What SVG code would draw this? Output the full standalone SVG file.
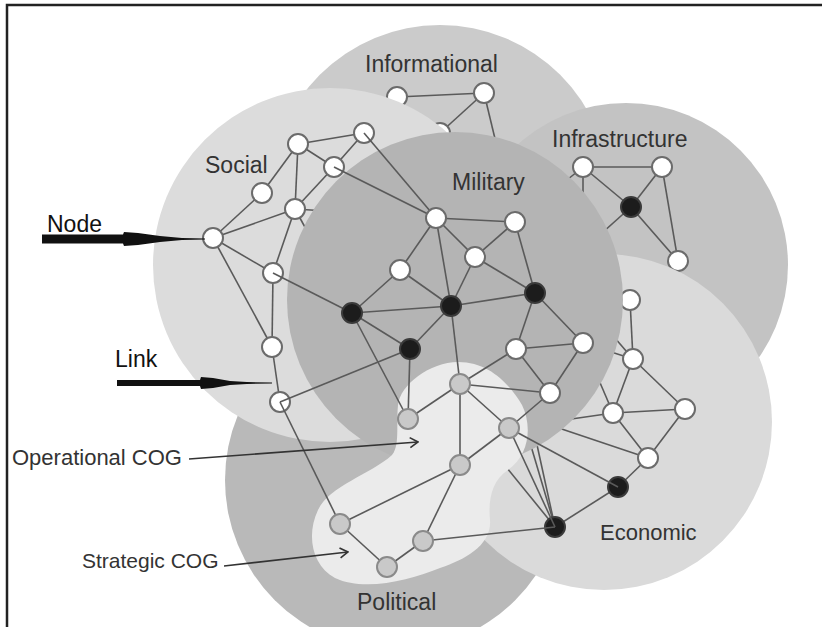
<svg xmlns="http://www.w3.org/2000/svg" width="822" height="627" viewBox="0 0 822 627">
<style>
.n{fill:#fff;stroke:#6b6b6b;stroke-width:2}
.b{fill:#1c1c1c;stroke:#3a3a3a;stroke-width:2}
.g{fill:#c9c9c9;stroke:#8a8a8a;stroke-width:2}
.l line{stroke:#5a5a5a;stroke-width:1.6}
.lab{font-family:"Liberation Sans",Arial,sans-serif;font-size:23px;fill:#333}
.ptr{stroke:#333;stroke-width:1.6;fill:none}
</style>
<defs>
<marker id="chev" viewBox="0 0 10 12" refX="9" refY="6" markerWidth="10" markerHeight="12" markerUnits="userSpaceOnUse" orient="auto">
<path d="M1,1 L9,6 L1,11" fill="none" stroke="#333" stroke-width="1.6"/>
</marker>
</defs>
<rect width="822" height="627" fill="#fff"/>

<!-- Informational layer -->
<circle id="area-informational" cx="440" cy="195" r="170" fill="#cbcbcb"/>
<g id="links-informational" class="l">
<line x1="397" y1="97" x2="484" y2="93"/>
<line x1="484" y1="93" x2="440" y2="133"/>
<line x1="484" y1="93" x2="515" y2="222"/>
</g>
<g id="node-I1"><circle class="n" cx="397" cy="97" r="10"/></g>
<g id="node-I2"><circle class="n" cx="484" cy="93" r="10"/></g>
<g id="node-I3"><circle class="n" cx="440" cy="133" r="10"/></g>

<!-- Infrastructure layer -->
<circle id="area-infrastructure" cx="626" cy="265" r="162" fill="#c3c3c3"/>
<g id="links-infrastructure" class="l">
<line x1="583" y1="167" x2="662" y2="167"/>
<line x1="583" y1="167" x2="631" y2="207"/>
<line x1="662" y1="167" x2="631" y2="207"/>
<line x1="662" y1="167" x2="678" y2="261"/>
<line x1="631" y1="207" x2="678" y2="261"/>
<line x1="631" y1="207" x2="535" y2="293"/>
<line x1="583" y1="167" x2="515" y2="222"/>
<line x1="583" y1="167" x2="583" y2="343"/>
</g>
<g id="node-F1"><circle class="n" cx="583" cy="167" r="10"/></g>
<g id="node-F2"><circle class="n" cx="662" cy="167" r="10"/></g>
<g id="node-F3"><circle class="b" cx="631" cy="207" r="10"/></g>
<g id="node-F4"><circle class="n" cx="678" cy="261" r="10"/></g>

<!-- Political layer -->
<circle id="area-political" cx="395" cy="480" r="170" fill="#b9b9b9"/>

<!-- Economic layer -->
<circle id="area-economic" cx="604" cy="422" r="168" fill="#dadada"/>
<g id="links-economic" class="l">
<line x1="630" y1="300" x2="633" y2="359"/>
<line x1="633" y1="359" x2="613" y2="413"/>
<line x1="633" y1="359" x2="685" y2="409"/>
<line x1="613" y1="413" x2="685" y2="409"/>
<line x1="613" y1="413" x2="648" y2="458"/>
<line x1="685" y1="409" x2="648" y2="458"/>
<line x1="648" y1="458" x2="618" y2="487"/>
<line x1="618" y1="487" x2="555" y2="527"/>
<line x1="633" y1="359" x2="583" y2="343"/>
<line x1="633" y1="359" x2="515" y2="222"/>
<line x1="613" y1="413" x2="583" y2="343"/>
<line x1="613" y1="413" x2="509" y2="428"/>
<line x1="648" y1="458" x2="520" y2="415"/>
<line x1="555" y1="527" x2="516" y2="349"/>
<line x1="555" y1="527" x2="475" y2="257"/>
<line x1="555" y1="527" x2="410" y2="349"/>
</g>
<g id="node-E1"><circle class="n" cx="630" cy="300" r="10"/></g>
<g id="node-E2"><circle class="n" cx="633" cy="359" r="10"/></g>
<g id="node-E3"><circle class="n" cx="613" cy="413" r="10"/></g>
<g id="node-E4"><circle class="n" cx="685" cy="409" r="10"/></g>
<g id="node-E5"><circle class="n" cx="648" cy="458" r="10"/></g>
<g id="node-E6"><circle class="b" cx="618" cy="487" r="10"/></g>
<g id="node-E7"><circle class="b" cx="555" cy="527" r="10"/></g>

<!-- Social layer -->
<circle id="area-social" cx="330" cy="265" r="177" fill="#dcdcdc"/>
<g id="links-social" class="l">
<line x1="298" y1="144" x2="364" y2="133"/>
<line x1="298" y1="144" x2="334" y2="167"/>
<line x1="364" y1="133" x2="334" y2="167"/>
<line x1="298" y1="144" x2="262" y2="193"/>
<line x1="298" y1="144" x2="295" y2="209"/>
<line x1="334" y1="167" x2="295" y2="209"/>
<line x1="262" y1="193" x2="213" y2="238"/>
<line x1="295" y1="209" x2="213" y2="238"/>
<line x1="295" y1="209" x2="273" y2="273"/>
<line x1="213" y1="238" x2="273" y2="273"/>
<line x1="213" y1="238" x2="272" y2="347"/>
<line x1="273" y1="273" x2="272" y2="347"/>
<line x1="272" y1="347" x2="280" y2="402"/>
<line x1="295" y1="209" x2="436" y2="218"/>
<line x1="295" y1="209" x2="352" y2="313"/>
</g>
<g id="node-S1"><circle class="n" cx="298" cy="144" r="10"/></g>
<g id="node-S2"><circle class="n" cx="364" cy="133" r="10"/></g>
<g id="node-S3"><circle class="n" cx="334" cy="167" r="10"/></g>
<g id="node-S4"><circle class="n" cx="262" cy="193" r="10"/></g>
<g id="node-S5"><circle class="n" cx="295" cy="209" r="10"/></g>
<g id="node-S6"><circle class="n" cx="213" cy="238" r="10"/></g>
<g id="node-S7"><circle class="n" cx="273" cy="273" r="10"/></g>
<g id="node-S8"><circle class="n" cx="272" cy="347" r="10"/></g>
<g id="node-S9"><circle class="n" cx="280" cy="402" r="10"/></g>

<!-- Military layer -->
<circle id="area-military" cx="455" cy="300" r="168" fill="#b4b4b4"/>

<!-- Centre of gravity area -->
<path id="area-cog" fill="#ebebeb" d="M398,405 C400,385 430,362 458,362 C490,362 510,385 522,405 C532,425 530,455 508,470 C492,480 488,500 490,520 C492,545 465,560 440,568 C410,580 365,592 335,578 C312,566 306,535 318,510 C330,485 370,475 392,455 C400,445 396,425 398,405 Z"/>

<g id="links-main" class="l">
<line x1="364" y1="133" x2="436" y2="218"/>
<line x1="334" y1="167" x2="436" y2="218"/>
<line x1="273" y1="273" x2="352" y2="313"/>
<line x1="280" y1="402" x2="410" y2="349"/>
<line x1="280" y1="402" x2="340" y2="524"/>
<line x1="436" y1="218" x2="515" y2="222"/>
<line x1="436" y1="218" x2="475" y2="257"/>
<line x1="436" y1="218" x2="400" y2="270"/>
<line x1="436" y1="218" x2="451" y2="306"/>
<line x1="515" y1="222" x2="475" y2="257"/>
<line x1="515" y1="222" x2="535" y2="293"/>
<line x1="475" y1="257" x2="451" y2="306"/>
<line x1="475" y1="257" x2="535" y2="293"/>
<line x1="400" y1="270" x2="352" y2="313"/>
<line x1="400" y1="270" x2="451" y2="306"/>
<line x1="352" y1="313" x2="451" y2="306"/>
<line x1="352" y1="313" x2="410" y2="349"/>
<line x1="352" y1="313" x2="408" y2="419"/>
<line x1="451" y1="306" x2="535" y2="293"/>
<line x1="451" y1="306" x2="410" y2="349"/>
<line x1="451" y1="306" x2="460" y2="384"/>
<line x1="535" y1="293" x2="516" y2="349"/>
<line x1="535" y1="293" x2="583" y2="343"/>
<line x1="410" y1="349" x2="408" y2="419"/>
<line x1="516" y1="349" x2="460" y2="384"/>
<line x1="516" y1="349" x2="583" y2="343"/>
<line x1="516" y1="349" x2="550" y2="393"/>
<line x1="583" y1="343" x2="550" y2="393"/>
<line x1="460" y1="384" x2="550" y2="393"/>
<line x1="550" y1="393" x2="509" y2="428"/>
<line x1="408" y1="419" x2="460" y2="384"/>
<line x1="460" y1="384" x2="509" y2="428"/>
<line x1="460" y1="384" x2="460" y2="465"/>
<line x1="509" y1="428" x2="460" y2="465"/>
<line x1="509" y1="428" x2="618" y2="487"/>
<line x1="509" y1="428" x2="555" y2="527"/>
<line x1="460" y1="465" x2="340" y2="524"/>
<line x1="460" y1="465" x2="423" y2="541"/>
<line x1="340" y1="524" x2="387" y2="567"/>
<line x1="387" y1="567" x2="423" y2="541"/>
<line x1="423" y1="541" x2="555" y2="527"/>
</g>

<g id="node-M1"><circle class="n" cx="436" cy="218" r="10"/></g>
<g id="node-M2"><circle class="n" cx="515" cy="222" r="10"/></g>
<g id="node-M3"><circle class="n" cx="475" cy="257" r="10"/></g>
<g id="node-M4"><circle class="n" cx="400" cy="270" r="10"/></g>
<g id="node-M5"><circle class="b" cx="352" cy="313" r="10"/></g>
<g id="node-M6"><circle class="b" cx="451" cy="306" r="10"/></g>
<g id="node-M7"><circle class="b" cx="535" cy="293" r="10"/></g>
<g id="node-M8"><circle class="b" cx="410" cy="349" r="10"/></g>
<g id="node-M9"><circle class="n" cx="516" cy="349" r="10"/></g>
<g id="node-M10"><circle class="n" cx="583" cy="343" r="10"/></g>
<g id="node-M11"><circle class="n" cx="550" cy="393" r="10"/></g>
<g id="node-G1"><circle class="g" cx="408" cy="419" r="10"/></g>
<g id="node-G2"><circle class="g" cx="460" cy="384" r="10"/></g>
<g id="node-G3"><circle class="g" cx="509" cy="428" r="10"/></g>
<g id="node-G4"><circle class="g" cx="460" cy="465" r="10"/></g>
<g id="node-G5"><circle class="g" cx="340" cy="524" r="10"/></g>
<g id="node-G6"><circle class="g" cx="387" cy="567" r="10"/></g>
<g id="node-G7"><circle class="g" cx="423" cy="541" r="10"/></g>

<!-- Labels -->
<g id="labels">
<text class="lab" x="365" y="72">Informational</text>
<text class="lab" x="552" y="147">Infrastructure</text>
<text class="lab" x="452" y="190">Military</text>
<text class="lab" x="205" y="173">Social</text>
<text class="lab" x="600" y="540" style="font-size:22px">Economic</text>
<text class="lab" x="357" y="610">Political</text>
<text class="lab" x="12" y="465" style="font-size:22px">Operational COG</text>
<text class="lab" x="82" y="568" style="font-size:21px">Strategic COG</text>
<text class="lab" x="47" y="232" style="fill:#111">Node</text>
<text class="lab" x="115" y="367" style="fill:#111">Link</text>
</g>

<g id="pointers">
<line class="ptr" x1="189" y1="459" x2="418" y2="442" marker-end="url(#chev)"/>
<line class="ptr" x1="224" y1="566" x2="348" y2="552" marker-end="url(#chev)"/>
<polygon fill="#111" points="42,234.5 123,234.5 124,232 138,233 160,236 182,238 205,238.5 205,239.5 182,240 160,242 138,245 124,246 123,243.5 42,243.5"/>
<polygon fill="#111" points="117,380 200,380 201,377 213,378 230,381 247,382 272,382.5 272,383.5 247,384 230,385 213,388 201,389 200,386 117,386"/>
</g>

<path id="frame" d="M7,627 V5 H822" fill="none" stroke="#222" stroke-width="2.5"/>
</svg>
